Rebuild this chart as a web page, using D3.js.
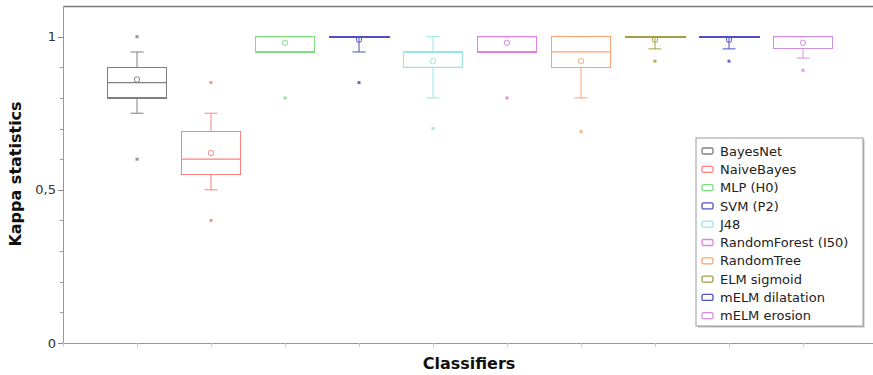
<!DOCTYPE html>
<html>
<head>
<meta charset="utf-8">
<script src="https://cdn.jsdelivr.net/npm/d3@7"></script>
<style>
  body { margin: 0; background: #fff; }
  svg { display: block; font-family: 'DejaVu Sans', sans-serif; }
  .tick-label { font-size: 13px; fill: #333; }
  .axis-title { font-size: 16px; font-weight: bold; fill: #111; }
  .legend-text { font-size: 13px; fill: #222; }
</style>
</head>
<body>
<svg class="chart" width="873" height="375"></svg>
<script>
const classifiers = ['BayesNet', 'NaiveBayes', 'MLP (H0)', 'SVM (P2)', 'J48',
  'RandomForest (I50)', 'RandomTree', 'ELM sigmoid', 'mELM dilatation', 'mELM erosion'];
const whiskerLow = [0.75, 0.50, 0.95, 0.95, 0.80, 0.95, 0.80, 0.96, 0.96, 0.93];
const q1 = [0.80, 0.55, 0.95, 1.00, 0.90, 0.95, 0.90, 1.00, 1.00, 0.96];
const median = [0.85, 0.60, 1.00, 1.00, 0.90, 1.00, 0.95, 1.00, 1.00, 1.00];
const q3 = [0.90, 0.69, 1.00, 1.00, 0.95, 1.00, 1.00, 1.00, 1.00, 1.00];
const whiskerHigh = [0.95, 0.75, 1.00, 1.00, 1.00, 1.00, 1.00, 1.00, 1.00, 1.00];
const means = [0.86, 0.62, 0.98, 0.99, 0.92, 0.98, 0.92, 0.99, 0.99, 0.98];
const outliers = [[1.00, 0.60], [0.85, 0.40], [0.80], [0.85], [0.70], [0.80], [0.69], [0.92], [0.92], [0.89]];
const yTickValues = [0, 0.5, 1];
const yTickLabels = ['0', '0,5', '1'];

const palette = ['#808080', '#ff8080', '#80dd80', '#5050c0', '#99e6e6',
  '#e080e0', '#ffa070', '#a0a040', '#5050c0', '#d090e0'];

const drawBoxes = (chart, data, xScale, yScale) => {
  const boxWidth = 59;
  const capWidth = 13;

  const groups = chart.selectAll('.box')
    .data(data)
    .enter()
    .append('g')
    .classed('box', true)
    .attr('stroke', d => d.color)
    .attr('fill', 'none');

  // whisker stems
  groups.append('line')
    .attr('x1', d => xScale(d.pos))
    .attr('x2', d => xScale(d.pos))
    .attr('y1', d => yScale(d.q3))
    .attr('y2', d => yScale(d.high));
  groups.append('line')
    .attr('x1', d => xScale(d.pos))
    .attr('x2', d => xScale(d.pos))
    .attr('y1', d => yScale(d.q1))
    .attr('y2', d => yScale(d.low));

  // caps
  ['high', 'low'].forEach(key => {
    groups.append('line')
      .attr('x1', d => xScale(d.pos) - capWidth / 2)
      .attr('x2', d => xScale(d.pos) + capWidth / 2)
      .attr('y1', d => yScale(d[key]))
      .attr('y2', d => yScale(d[key]));
  });

  groups.append('rect')
    .attr('x', d => xScale(d.pos) - boxWidth / 2)
    .attr('width', boxWidth)
    .attr('y', d => yScale(d.q3))
    .attr('height', d => Math.max(yScale(d.q1) - yScale(d.q3), 0.01))
    .attr('stroke-width', d => (d.q1 === d.q3 ? 2 : 1.2))
    .attr('shape-rendering', 'crispEdges');

  groups.append('line')
    .attr('x1', d => xScale(d.pos) - boxWidth / 2)
    .attr('x2', d => xScale(d.pos) + boxWidth / 2)
    .attr('y1', d => yScale(d.median))
    .attr('y2', d => yScale(d.median))
    .attr('stroke-width', 1.2);

  // mean marker
  groups.append('rect')
    .attr('x', d => xScale(d.pos) - 2.5)
    .attr('y', d => yScale(d.mean) - 2.5)
    .attr('width', 5)
    .attr('height', 5)
    .attr('rx', 1.8);

  groups.selectAll('.outlier')
    .data(d => d.outliers.map(v => ({ v, pos: d.pos, color: d.color })))
    .enter()
    .append('rect')
    .classed('outlier', true)
    .attr('stroke', 'none')
    .attr('fill', d => d.color)
    .attr('opacity', 0.85)
    .attr('x', d => xScale(d.pos) - 1.5)
    .attr('y', d => yScale(d.v) - 1.5)
    .attr('width', 3)
    .attr('height', 3);
};

const drawLegend = (svg, data) => {
  const legend = svg.append('g').attr('transform', 'translate(696, 138)');
  legend.append('rect')
    .attr('x', 1.5)
    .attr('y', 1.5)
    .attr('width', 167)
    .attr('height', 188)
    .attr('fill', '#bbb');
  legend.append('rect')
    .attr('width', 167)
    .attr('height', 188)
    .attr('fill', '#fff')
    .attr('stroke', '#999');

  const items = legend.selectAll('.item')
    .data(data)
    .enter()
    .append('g')
    .attr('transform', (d, i) => `translate(0, ${13 + i * 18.3})`);
  items.append('rect')
    .attr('x', 6)
    .attr('y', -3)
    .attr('width', 11)
    .attr('height', 6)
    .attr('rx', 1.5)
    .attr('fill', 'none')
    .attr('stroke', d => d.color)
    .attr('stroke-width', 1.3);
  items.append('text')
    .classed('legend-text', true)
    .attr('x', 24)
    .attr('dy', '0.36em')
    .text(d => d.name);
};

const startApp = () => {
  const svg = d3.select('.chart');
  const left = 63;
  const bottom = 343;
  const top = 6;
  const right = 873;

  const data = classifiers.map((name, i) => ({
    name,
    pos: i + 1,
    color: palette[i],
    low: whiskerLow[i],
    q1: q1[i],
    median: median[i],
    q3: q3[i],
    high: whiskerHigh[i],
    mean: means[i],
    outliers: outliers[i],
  }));

  const xScale = d3.scaleLinear().domain([0, 11]).range([left, left + 74 * 11]);
  const yScale = d3.scaleLinear().domain([0, 1.1]).range([bottom, top]);

  // frame
  svg.append('line')
    .attr('x1', left).attr('x2', right)
    .attr('y1', top + 0.5).attr('y2', top + 0.5)
    .attr('stroke', '#777')
    .attr('stroke-width', 1.5);

  // y axis
  const yAxis = svg.append('g');
  yAxis.append('line')
    .attr('x1', left + 0.5).attr('x2', left + 0.5)
    .attr('y1', top).attr('y2', bottom)
    .attr('stroke', '#999');
  yAxis.selectAll('.minor')
    .data(d3.range(0, 11).map(i => i / 10))
    .enter()
    .append('line')
    .attr('x1', left - 3)
    .attr('x2', left)
    .attr('y1', d => Math.round(yScale(d)) + 0.5)
    .attr('y2', d => Math.round(yScale(d)) + 0.5)
    .attr('stroke', '#999');
  yAxis.selectAll('.major')
    .data(yTickValues)
    .enter()
    .append('line')
    .attr('x1', left - 5)
    .attr('x2', left)
    .attr('y1', d => Math.round(yScale(d)) + 0.5)
    .attr('y2', d => Math.round(yScale(d)) + 0.5)
    .attr('stroke', '#888');
  yAxis.selectAll('.tick-label')
    .data(yTickValues)
    .enter()
    .append('text')
    .classed('tick-label', true)
    .attr('x', left - 7)
    .attr('y', d => yScale(d))
    .attr('dy', '0.36em')
    .attr('text-anchor', 'end')
    .text((d, i) => yTickLabels[i]);

  // x axis
  const xAxis = svg.append('g');
  xAxis.append('line')
    .attr('x1', left).attr('x2', right)
    .attr('y1', bottom + 0.5).attr('y2', bottom + 0.5)
    .attr('stroke', '#999');
  xAxis.selectAll('.xtick')
    .data(d3.range(0, 12))
    .enter()
    .append('line')
    .attr('x1', d => Math.round(xScale(d)) + 0.5)
    .attr('x2', d => Math.round(xScale(d)) + 0.5)
    .attr('y1', bottom)
    .attr('y2', bottom + 4)
    .attr('stroke', '#ccc');

  drawBoxes(svg.append('g'), data, xScale, yScale);

  svg.append('text')
    .classed('axis-title', true)
    .attr('transform', 'translate(21, 174) rotate(-90)')
    .attr('text-anchor', 'middle')
    .text('Kappa statistics');
  svg.append('text')
    .classed('axis-title', true)
    .attr('x', 469)
    .attr('y', 369)
    .attr('text-anchor', 'middle')
    .text('Classifiers');

  drawLegend(svg, data);
};

window.onload = startApp;
</script>
</body>
</html>
